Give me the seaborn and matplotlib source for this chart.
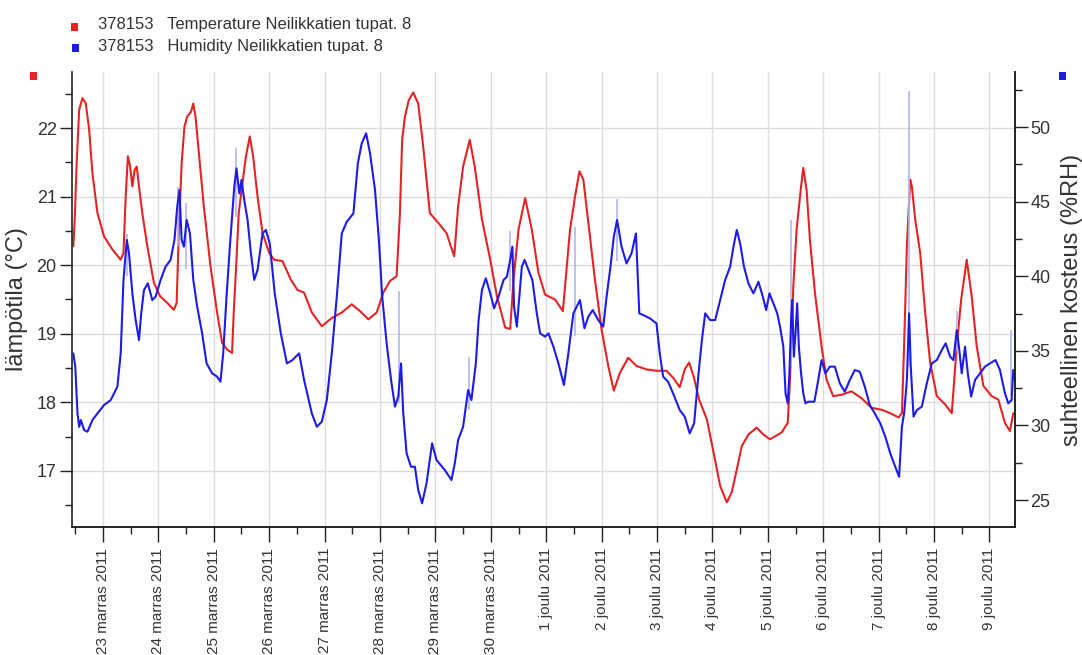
import matplotlib
matplotlib.use("Agg")
import matplotlib.pyplot as plt
import matplotlib.dates as mdates
from matplotlib.ticker import FuncFormatter, MultipleLocator
import pandas as pd
import seaborn as sns

# time axis: days counted from 23 Nov 2011 00:00
start = pd.Timestamp("2011-11-23")

temp_day = [-0.535, -0.51, -0.475, -0.43, -0.37, -0.31, -0.25, -0.19, -0.10, 0.02,
            0.17, 0.32, 0.37, 0.41, 0.45, 0.49, 0.53, 0.57, 0.61, 0.65,
            0.71, 0.80, 0.92, 1.03, 1.16, 1.28, 1.33, 1.37, 1.42, 1.47,
            1.52, 1.59, 1.63, 1.67, 1.73, 1.82, 1.94, 2.06, 2.15, 2.24,
            2.33, 2.36, 2.41, 2.45, 2.51, 2.58, 2.65, 2.71, 2.79, 2.88,
            3.00, 3.09, 3.24, 3.39, 3.51, 3.63,
            3.77, 3.95, 4.13, 4.31, 4.49, 4.64, 4.79, 4.94, 5.06, 5.18,
            5.30, 5.36, 5.40, 5.45, 5.52, 5.60, 5.69, 5.78, 5.90, 6.05,
            6.20, 6.34, 6.41, 6.50, 6.62, 6.71, 6.84, 6.99, 7.11, 7.26,
            7.35, 7.41, 7.50, 7.62, 7.74, 7.86,
            7.98, 8.16, 8.30, 8.34, 8.43, 8.52, 8.60, 8.67, 8.76, 8.88,
            9.00, 9.12, 9.22, 9.33, 9.48, 9.63, 9.81, 9.99, 10.17, 10.29,
            10.41, 10.50, 10.58, 10.66, 10.76, 10.90, 11.02, 11.14, 11.26, 11.35,
            11.44, 11.53, 11.65, 11.80, 11.92, 12.04,
            12.25, 12.36, 12.40, 12.46, 12.52, 12.60, 12.64, 12.70, 12.76, 12.85,
            12.97, 13.06, 13.18, 13.33, 13.51, 13.69, 13.87, 14.06, 14.21, 14.36,
            14.42, 14.46, 14.51, 14.57, 14.60, 14.66, 14.75, 14.84, 14.93, 15.05,
            15.20, 15.32, 15.41, 15.49, 15.59, 15.68, 15.77, 15.89, 16.04, 16.16,
            16.28, 16.37, 16.43]
temp_c = [20.28, 20.67, 21.49, 22.27, 22.44, 22.36, 21.98, 21.34, 20.76, 20.42,
          20.23, 20.08, 20.18, 21.0, 21.59, 21.44, 21.15, 21.39, 21.44, 21.15,
          20.76, 20.28, 19.74, 19.55, 19.45, 19.35, 19.45, 20.52, 21.49, 22.02,
          22.17, 22.24, 22.36, 22.17, 21.64, 20.86, 19.99, 19.31, 18.87, 18.77,
          18.72, 19.31, 20.08, 20.76, 21.15, 21.59, 21.88, 21.59, 21.0, 20.47,
          20.18, 20.08, 20.06, 19.79, 19.64, 19.6,
          19.31, 19.11, 19.23, 19.31, 19.43, 19.33, 19.21, 19.31, 19.6, 19.77,
          19.84, 20.76, 21.83, 22.17, 22.41, 22.52, 22.36, 21.73, 20.76, 20.62,
          20.47, 20.13, 20.86, 21.44, 21.83, 21.44, 20.67, 20.08, 19.55, 19.09,
          19.07, 19.79, 20.52, 20.98, 20.52, 19.89,
          19.57, 19.5, 19.33, 19.69, 20.52, 21.0, 21.37, 21.25, 20.62, 19.79,
          19.06, 18.53, 18.17, 18.43, 18.65, 18.53, 18.48, 18.46, 18.46, 18.36,
          18.22, 18.48, 18.58, 18.38, 18.04, 17.75, 17.27, 16.78, 16.54, 16.69,
          17.02, 17.36, 17.53, 17.63, 17.53, 17.46,
          17.56, 17.70, 18.33, 19.69, 20.52, 21.15, 21.42, 21.10, 20.37, 19.60,
          18.82, 18.33, 18.09, 18.11, 18.16, 18.06, 17.92, 17.89, 17.84, 17.78,
          17.84, 18.82, 20.28, 21.25, 21.15, 20.67, 20.18, 19.31, 18.58, 18.09,
          17.97, 17.84, 18.82, 19.50, 20.08, 19.55, 18.82, 18.24, 18.09, 18.04,
          17.70, 17.58, 17.84]

hum_day = [-0.535, -0.50, -0.46, -0.43, -0.40, -0.34, -0.28, -0.19, -0.10, 0.02,
           0.14, 0.26, 0.32, 0.37, 0.43, 0.47, 0.53, 0.59, 0.65, 0.69,
           0.74, 0.81, 0.89, 0.95, 1.04, 1.13, 1.22, 1.29, 1.34, 1.38,
           1.42, 1.46, 1.51, 1.57, 1.63, 1.70, 1.79, 1.87, 1.97, 2.06,
           2.12, 2.17, 2.23, 2.29, 2.37, 2.41, 2.46, 2.50, 2.55, 2.61,
           2.67, 2.73, 2.79, 2.88, 2.94, 3.01, 3.10, 3.21, 3.32, 3.42,
           3.54, 3.63,
           3.77, 3.86, 3.95, 4.04, 4.13, 4.22, 4.31, 4.40, 4.52, 4.60,
           4.67, 4.75, 4.82, 4.91, 4.98, 5.04, 5.12, 5.20, 5.27, 5.33,
           5.38, 5.42, 5.48, 5.56, 5.63, 5.69, 5.76, 5.84, 5.94, 6.02,
           6.17, 6.29, 6.35, 6.41, 6.50, 6.59, 6.65, 6.73, 6.78, 6.84,
           6.91, 6.99, 7.06, 7.14, 7.23, 7.29, 7.35, 7.39, 7.42, 7.47,
           7.51, 7.56, 7.61, 7.68, 7.75, 7.83, 7.89,
           7.98, 8.04, 8.13, 8.22, 8.32, 8.40, 8.49, 8.55, 8.61, 8.69,
           8.76, 8.84, 8.94, 9.03, 9.09, 9.16, 9.22, 9.28, 9.36, 9.45,
           9.54, 9.62, 9.68, 9.75, 9.87, 9.99, 10.05, 10.11, 10.20, 10.29,
           10.41, 10.50, 10.59, 10.67, 10.75, 10.81, 10.87, 10.96, 11.05, 11.14,
           11.23, 11.32, 11.38, 11.44, 11.50, 11.57, 11.65, 11.74, 11.83, 11.91,
           11.97, 12.03, 12.10, 12.17,
           12.22, 12.28, 12.32, 12.36, 12.39, 12.42, 12.44, 12.47, 12.50, 12.53,
           12.56, 12.60, 12.64, 12.68, 12.73, 12.84, 12.90, 12.97, 13.04, 13.12,
           13.21, 13.30, 13.39, 13.48, 13.57, 13.66, 13.75, 13.84, 13.93, 14.03,
           14.12, 14.21, 14.30, 14.37, 14.42, 14.46, 14.51, 14.55, 14.58, 14.63,
           14.69, 14.78, 14.87, 14.96, 15.05, 15.14, 15.21, 15.29, 15.35, 15.41,
           15.45, 15.50, 15.56, 15.61, 15.67, 15.74, 15.83, 15.92, 16.01, 16.11,
           16.19, 16.28, 16.34, 16.40, 16.43, 16.46]
hum_rh = [34.83, 33.94, 30.8, 29.9, 30.36, 29.69, 29.58, 30.36, 30.8, 31.37,
          31.7, 32.6, 34.83, 39.75, 42.43, 41.53, 38.85, 37.06, 35.72, 37.51,
          39.07, 39.52, 38.4, 38.63, 39.75, 40.64, 41.09, 42.43, 44.66, 45.78,
          42.43, 41.98, 43.77, 42.87, 39.75, 37.96, 36.17, 34.16, 33.49, 33.27,
          32.93, 34.83, 38.63, 41.98, 46.0, 47.23, 45.55, 46.45, 45.11, 43.77,
          41.53, 39.75, 40.42, 42.87, 43.1, 42.2, 38.85, 36.17, 34.16, 34.38,
          34.83, 33.04,
          30.8, 29.91, 30.25, 31.7, 34.83, 38.63, 42.87, 43.65, 44.21, 47.56,
          48.9, 49.58, 48.24, 45.78, 42.43, 38.63, 35.5, 33.04, 31.26, 31.93,
          34.16, 30.8, 28.13, 27.23, 27.23, 25.67, 24.78, 26.12, 28.8, 27.68,
          27.01, 26.34, 27.46, 29.02, 29.91, 32.37, 31.7, 34.16, 37.06, 39.07,
          39.86, 38.85, 37.85, 38.63, 39.75, 39.97, 41.09, 41.98, 37.96, 36.62,
          38.4, 40.64, 41.09, 40.42, 39.75, 37.51, 36.17,
          35.95, 36.17, 35.28, 34.16, 32.71, 34.83, 37.51, 37.96, 38.4, 36.51,
          37.29, 37.73, 37.06, 36.62, 38.63, 40.64, 42.65, 43.77, 41.98, 40.86,
          41.53, 42.87, 37.51, 37.4, 37.18, 36.84, 34.83, 33.27, 32.93, 32.15,
          31.03, 30.59, 29.47, 30.14, 33.49, 35.72, 37.51, 37.06, 37.06, 38.4,
          39.75, 40.64, 41.98, 43.1, 42.2, 40.64, 39.52, 38.85, 39.63, 38.63,
          37.73, 38.85, 38.18, 37.51,
          36.62, 35.28, 32.15, 31.48, 33.49, 37.06, 38.4, 34.61, 36.17, 38.18,
          35.28, 33.49, 32.15, 31.48, 31.59, 31.59, 32.82, 34.38, 33.49, 33.94,
          33.94, 32.82, 32.26, 33.04, 33.71, 33.6, 32.6, 31.37, 30.81, 30.14,
          29.25, 28.13, 27.23, 26.56, 29.91, 30.81, 33.04, 37.51, 33.94, 30.59,
          31.03, 31.26, 32.82, 34.16, 34.38, 35.05, 35.5, 34.61, 34.38, 36.39,
          35.28, 33.49, 35.28, 33.49, 31.93, 33.04, 33.49, 33.94, 34.16, 34.38,
          33.71, 32.15, 31.48, 31.7, 33.71, 33.04]

# short raw-reading spikes (pale) around the smoothed humidity line
spike_day = [0.43, 1.36, 1.49, 2.40, 5.35, 6.61, 7.35, 8.52, 9.27, 12.42, 14.54, 15.41, 16.39]
spike_low = [40.0, 42.0, 40.5, 44.0, 31.5, 31.0, 39.0, 36.0, 41.0, 34.0, 34.0, 35.0, 32.0]
spike_high = [42.8, 46.0, 44.9, 48.6, 39.0, 34.6, 43.0, 43.3, 45.2, 43.8, 52.4, 37.7, 36.4]

month_names = {11: "marras", 12: "joulu"}
series_labels = ["378153   Temperature Neilikkatien tupat. 8",
                 "378153   Humidity Neilikkatien tupat. 8"]

red = "#e42424"
blue = "#1c1ce6"
txt = "#333333"

temp_df = pd.DataFrame({"time": start + pd.to_timedelta(temp_day, unit="D"), "value": temp_c})
hum_df = pd.DataFrame({"time": start + pd.to_timedelta(hum_day, unit="D"), "value": hum_rh})
spike_time = start + pd.to_timedelta(spike_day, unit="D")

sns.set_style("white")
plt.rcParams["font.family"] = ["Liberation Sans", "DejaVu Sans"]

fig = plt.figure(figsize=(10.82, 6.55), dpi=100)
ax = fig.add_axes([0.0665, 0.1954, 0.8715, 0.6947])
ax2 = ax.twinx()

sns.lineplot(data=temp_df, x="time", y="value", ax=ax, color=red, linewidth=1.5)
ax2.vlines(spike_time, spike_low, spike_high, color="#b4b4f4", linewidth=1.2)
sns.lineplot(data=hum_df, x="time", y="value", ax=ax2, color=blue, linewidth=1.5)

ax.set_xlim(start + pd.Timedelta(days=-0.56), start + pd.Timedelta(days=16.46))
ax.set_ylim(16.18, 22.82)
ax2.set_ylim(23.19, 53.69)

ax.xaxis.set_major_locator(mdates.DayLocator())
ax.xaxis.set_minor_locator(mdates.HourLocator(byhour=[12]))


def day_label(v, pos):
    d = mdates.num2date(v)
    return f"{d.day} {month_names[d.month]} {d.year}"


ax.xaxis.set_major_formatter(FuncFormatter(day_label))
ax.yaxis.set_major_locator(MultipleLocator(1))
ax.yaxis.set_minor_locator(MultipleLocator(0.5))
ax2.yaxis.set_major_locator(MultipleLocator(5))
ax2.yaxis.set_minor_locator(MultipleLocator(2.5))

ax.grid(True, which="major", color="#dcdcdc", linewidth=1)
ax.set_axisbelow(True)
ax2.grid(False)

ax.tick_params(axis="x", which="major", length=11, width=1, direction="out", rotation=90,
               labelsize=11, labelcolor=txt, color="#222", pad=4, bottom=True)
ax.tick_params(axis="x", which="minor", length=5, width=1, direction="out", color="#222", bottom=True)
ax.tick_params(axis="y", which="major", length=9, width=1, direction="out",
               labelsize=13, labelcolor=txt, color="#222", left=True, pad=2)
ax.tick_params(axis="y", which="minor", length=5, width=1, direction="out", color="#222", left=True)
ax2.tick_params(axis="y", which="major", length=9, width=1, direction="out",
                labelsize=13, labelcolor=txt, color="#222", right=True, pad=2)
ax2.tick_params(axis="y", which="minor", length=5, width=1, direction="out", color="#222", right=True)

for a in (ax, ax2):
    a.spines["top"].set_visible(False)
    for s in ("left", "right", "bottom"):
        a.spines[s].set_color("#222")
        a.spines[s].set_linewidth(1.2)
ax2.spines["left"].set_visible(False)

ax.set_xlabel("")
ax.set_ylabel("lämpötila (°C)", fontsize=17, color=txt, labelpad=6)
ax2.set_ylabel("suhteellinen kosteus (%RH)", fontsize=17, color=txt, labelpad=8)

# series legend and axis colour markers
W, H = 1082, 655
for (cx, cy), col in [((74, 27), red), ((75, 48), blue), ((33, 76), red), ((1062, 76), blue)]:
    fig.add_artist(plt.Rectangle(((cx - 3.5) / W, 1 - (cy + 3.5) / H), 7 / W, 7 / H,
                                 transform=fig.transFigure, color=col, lw=0))
fig.text(98 / W, 1 - 25 / H, series_labels[0], fontsize=12, color=txt, va="center", ha="left")
fig.text(98 / W, 1 - 47 / H, series_labels[1], fontsize=12, color=txt, va="center", ha="left")

fig.savefig("out.png", dpi=100)
